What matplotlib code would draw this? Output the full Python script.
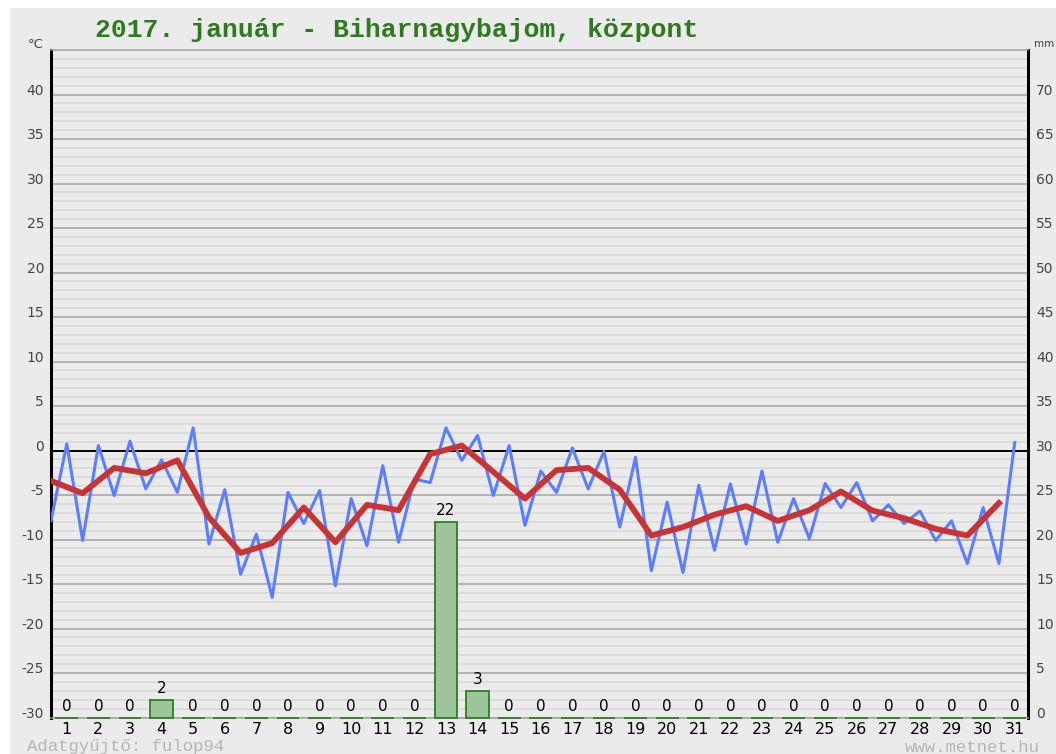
"""metnet havi grafikon: 2017. januar, Biharnagybajom"""
import numpy as np
import matplotlib.pyplot as plt
from matplotlib.patches import Rectangle

plt.rcParams['axes.unicode_minus'] = False

days = np.arange(1, 32)

# homerseklet felnapos lepesekkel (0.5, 1.0, ... 31.0)
temp_halfday = [-7.9, 0.75, -10.1, 0.56, -5.05, 1.05, -4.3, -1.05, -4.7, 2.55,
                -10.5, -4.4, -13.9, -9.4, -16.5, -4.7, -8.2, -4.5, -15.2, -5.4,
                -10.7, -1.7, -10.3, -3.2, -3.6, 2.55, -1.1, 1.7, -5.05, 0.56,
                -8.4, -2.3, -4.7, 0.3, -4.3, -0.1, -8.6, -0.75, -13.5, -5.8,
                -13.7, -3.9, -11.2, -3.75, -10.5, -2.3, -10.3, -5.4, -9.9, -3.7,
                -6.4, -3.6, -7.9, -6.1, -8.2, -6.8, -10.1, -7.9, -12.7, -6.4,
                -12.7, 0.9]

# napi kozep (0.5, 1.5, ... 30.5)
temp_mean = [-3.4, -4.8, -1.95, -2.55, -1.1, -7.5, -11.5, -10.4, -6.4, -10.3,
             -6.1, -6.7, -0.4, 0.56, -2.4, -5.4, -2.2, -1.95, -4.4, -9.55,
             -8.6, -7.2, -6.25, -7.9, -6.7, -4.6, -6.75, -7.6, -8.8, -9.55,
             -5.9]

# csapadek mm
precip = [0, 0, 0, 2, 0, 0, 0, 0, 0, 0, 0, 0, 22, 3, 0, 0,
          0, 0, 0, 0, 0, 0, 0, 0, 0, 0, 0, 0, 0, 0, 0]

t_half = np.arange(1, len(temp_halfday) + 1) * 0.5
t_mean = np.arange(len(temp_mean)) + 0.5

bg = '#ebebeb'
W, H = 1056, 754

fig = plt.figure(figsize=(W / 100, H / 100), dpi=100)
fig.patch.set_facecolor('white')
fig.patches.append(Rectangle((10 / W, 0), 1, 1 - 8 / H, transform=fig.transFigure,
                             facecolor=bg, edgecolor='none', zorder=-10))

ax = fig.add_axes([51 / W, 1 - 717.6 / H, (1028 - 51) / W, (717.6 - 50) / H])
ax.set_facecolor(bg)
ax.set_xlim(0.5, 31.42)
ax.set_ylim(-30, 45)

ax.set_yticks(np.arange(-30, 41, 5))
ax.set_yticks(np.arange(-30, 46, 1), minor=True)
ax.grid(which='minor', axis='y', color='#d8d8d8', lw=1.1)
ax.grid(which='major', axis='y', color='#a3a3a3', lw=1.1)
ax.set_axisbelow(True)
ax.axhline(0, color='black', lw=1.4, zorder=1)

ax.set_xticks(days)
ax.tick_params(axis='x', length=0, pad=3, labelsize=11.5, labelcolor='black')
ax.tick_params(axis='y', which='both', length=0, pad=5, labelsize=10,
               labelcolor='#444444')
for lab in ax.get_yticklabels():
    lab.set_va('baseline')

for side in ['left', 'right']:
    ax.spines[side].set_color('black')
    ax.spines[side].set_linewidth(2.2)
for side in ['top', 'bottom']:
    ax.spines[side].set_color('#a3a3a3')
    ax.spines[side].set_linewidth(1.1)

ax.plot(t_half, temp_halfday, color='#5b7dff', lw=2.2, zorder=4)
ax.plot(t_mean, temp_mean, color='#c83434', lw=4.2, zorder=5)

ax2 = ax.twinx()
ax2.set_ylim(0, 75)
ax2.set_yticks(np.arange(0, 71, 5))
ax2.tick_params(axis='y', length=0, pad=6, labelsize=10, labelcolor='#444444')
for lab in ax2.get_yticklabels():
    lab.set_va('baseline')
for s in ax2.spines.values():
    s.set_visible(False)

bars = ax2.bar(days, precip, width=0.72, color='#9ec49c', edgecolor='#2f7d1f',
               lw=1.3, zorder=3)
for b in bars:
    b.set_clip_on(False)
for d, p in zip(days, precip):
    ax2.text(d, p + 0.4, str(p), ha='center', va='bottom', fontsize=11,
             color='black')

fig.text(95 / W, 1 - 30 / H, '2017. január - Biharnagybajom, központ',
         family='Liberation Mono', fontsize=19, fontweight='bold',
         color='#2e7b1f', ha='left', va='center')
fig.text(44 / W, 1 - 44 / H, '°C', fontsize=9.5, color='#444444',
         ha='right', va='center')
fig.text(1034 / W, 1 - 44 / H, 'mm', fontsize=7.5, color='#444444',
         ha='left', va='center')
fig.text(27 / W, 1 - 747 / H, 'Adatgyűjtő: fulop94', family='Liberation Mono',
         fontsize=12.5, color='#b5b5b5', ha='left', va='center')
fig.text(1040 / W, 1 - 748 / H, 'www.metnet.hu', family='Liberation Mono',
         fontsize=12.5, color='#b5b5b5', ha='right', va='center')

fig.savefig('out.png', dpi=100, facecolor=fig.get_facecolor())
